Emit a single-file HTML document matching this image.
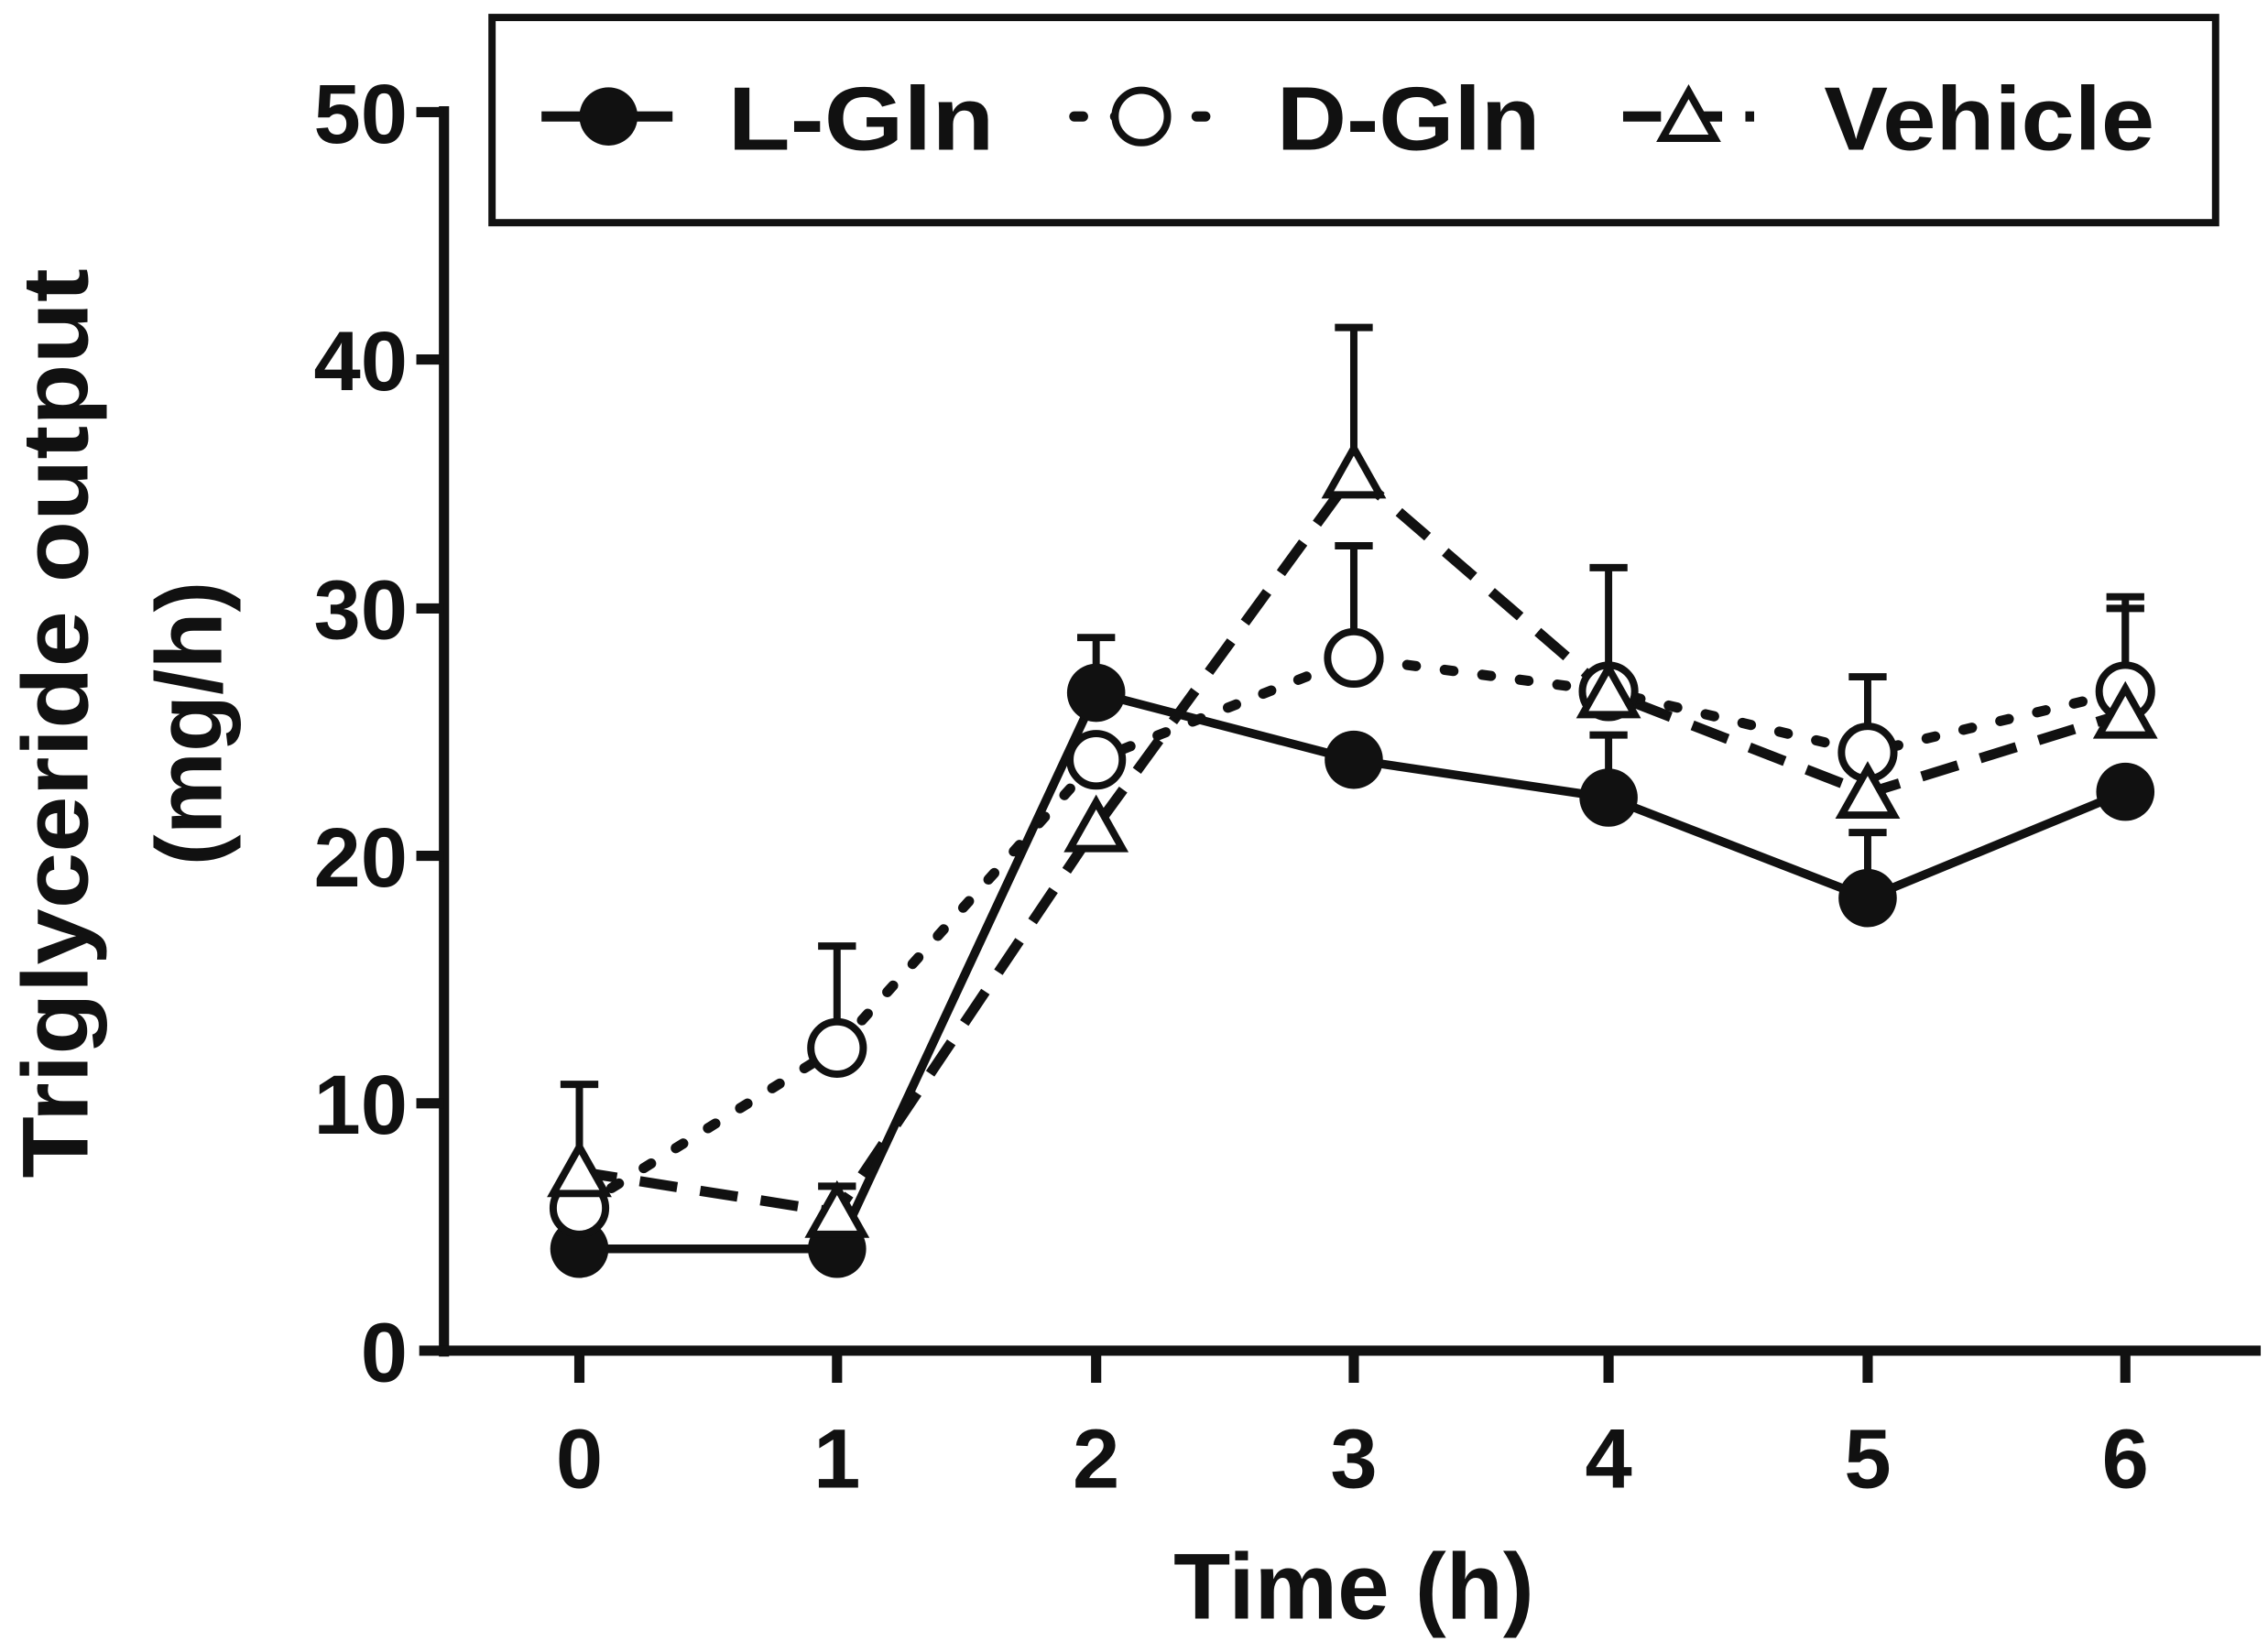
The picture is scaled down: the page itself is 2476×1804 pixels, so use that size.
<!DOCTYPE html>
<html><head><meta charset="utf-8"><style>html,body{margin:0;padding:0;background:#fff}svg{display:block}</style></head>
<body>
<svg width="2476" height="1804" viewBox="0 0 1558 1135" preserveAspectRatio="none" xmlns="http://www.w3.org/2000/svg" font-family="Liberation Sans, sans-serif" font-weight="bold">
<rect width="1558" height="1135" fill="#fff"/>
<g stroke="#111" stroke-width="7" fill="none">
<line x1="305" y1="73" x2="305" y2="932"/>
<line x1="288" y1="928" x2="1553" y2="928"/>
<line x1="286" y1="77" x2="305" y2="77"/><line x1="286" y1="247" x2="305" y2="247"/><line x1="286" y1="418" x2="305" y2="418"/><line x1="286" y1="588" x2="305" y2="588"/><line x1="286" y1="758" x2="305" y2="758"/>
<line x1="398" y1="928" x2="398" y2="950"/><line x1="575" y1="928" x2="575" y2="950"/><line x1="753" y1="928" x2="753" y2="950"/><line x1="930" y1="928" x2="930" y2="950"/><line x1="1105" y1="928" x2="1105" y2="950"/><line x1="1283" y1="928" x2="1283" y2="950"/><line x1="1460" y1="928" x2="1460" y2="950"/>
</g>
<g font-size="58" fill="#111" text-anchor="end">
<text x="280" y="98">50</text><text x="280" y="268">40</text><text x="280" y="439">30</text><text x="280" y="609">20</text><text x="280" y="779">10</text><text x="280" y="949">0</text>
</g>
<g font-size="58" fill="#111" text-anchor="middle">
<text x="398" y="1022">0</text><text x="575" y="1022">1</text><text x="753" y="1022">2</text><text x="930" y="1022">3</text><text x="1105" y="1022">4</text><text x="1283" y="1022">5</text><text x="1460" y="1022">6</text>
<text x="930" y="1112" font-size="64">Time (h)</text>
<text transform="translate(60,497) rotate(-90)" font-size="64" textLength="625" lengthAdjust="spacingAndGlyphs">Triglyceride output</text>
<text transform="translate(152,497) rotate(-90)" font-size="64">(mg/h)</text>
</g>
<g stroke="#111" stroke-width="5" fill="none">
<path d="M753 476V438M740 438H766M1105 548V505M1092 505H1118M1283 617V572M1270 572H1296"/>
<path d="M575 720V650M562 650H588M930 452V375M917 375H943M1105 475V390M1092 390H1118M1283 517V465M1270 465H1296M1460 475V410M1447 410H1473"/>
<path d="M398 805V745M385 745H411M930 325V225M917 225H943M1460 490V418M1447 418H1473M575 833V815M562 815H588"/>
</g>
<polyline points="398,805 575,833 753,568 930,325 1105,476 1283,545 1460,490" fill="none" stroke="#111" stroke-width="7" stroke-dasharray="26,16"/>
<polyline points="398,830 575,720 753,522 930,452 1105,475 1283,517 1460,475" fill="none" stroke="#111" stroke-width="7" stroke-dasharray="6,20" stroke-linecap="round"/>
<polyline points="398,858 575,858 753,476 930,522 1105,548 1283,617 1460,544" fill="none" stroke="#111" stroke-width="6"/>
<g fill="#111">
<circle cx="398" cy="858" r="20"/><circle cx="575" cy="858" r="20"/><circle cx="753" cy="476" r="20"/><circle cx="930" cy="522" r="20"/><circle cx="1105" cy="548" r="20"/><circle cx="1283" cy="617" r="20"/><circle cx="1460" cy="544" r="20"/>
</g>
<g fill="#fff" stroke="#111" stroke-width="5">
<circle cx="398" cy="830" r="18"/><circle cx="575" cy="720" r="18"/><circle cx="753" cy="522" r="18"/><circle cx="930" cy="452" r="18"/><circle cx="1105" cy="475" r="18"/><circle cx="1283" cy="517" r="18"/><circle cx="1460" cy="475" r="18"/>
</g>
<g fill="#fff" stroke="#111" stroke-width="5">
<path d="M398 788l18 32h-36z"/><path d="M575 816l18 32h-36z"/><path d="M753 551l18 32h-36z"/><path d="M930 308l18 32h-36z"/><path d="M1105 459l18 32h-36z"/><path d="M1283 528l18 32h-36z"/><path d="M1460 473l18 32h-36z"/>
</g>
<rect x="338" y="12" width="1184" height="141" fill="#fff" stroke="#111" stroke-width="5"/>
<line x1="372" y1="80" x2="462" y2="80" stroke="#111" stroke-width="7"/>
<circle cx="418" cy="80" r="20" fill="#111"/>
<line x1="738" y1="80" x2="828" y2="80" stroke="#111" stroke-width="7" stroke-dasharray="6,22" stroke-linecap="round"/>
<circle cx="784" cy="80" r="18" fill="#fff" stroke="#111" stroke-width="5"/>
<line x1="1115" y1="80" x2="1205" y2="80" stroke="#111" stroke-width="7" stroke-dasharray="26,16"/>
<path d="M1160 63l18 32h-36z" fill="#fff" stroke="#111" stroke-width="5"/>
<g font-size="62" fill="#111">
<text x="500" y="103" textLength="183" lengthAdjust="spacingAndGlyphs">L-Gln</text><text x="877" y="103" textLength="181" lengthAdjust="spacingAndGlyphs">D-Gln</text><text x="1253" y="103" textLength="227" lengthAdjust="spacingAndGlyphs">Vehicle</text>
</g>
</svg>
</body></html>
